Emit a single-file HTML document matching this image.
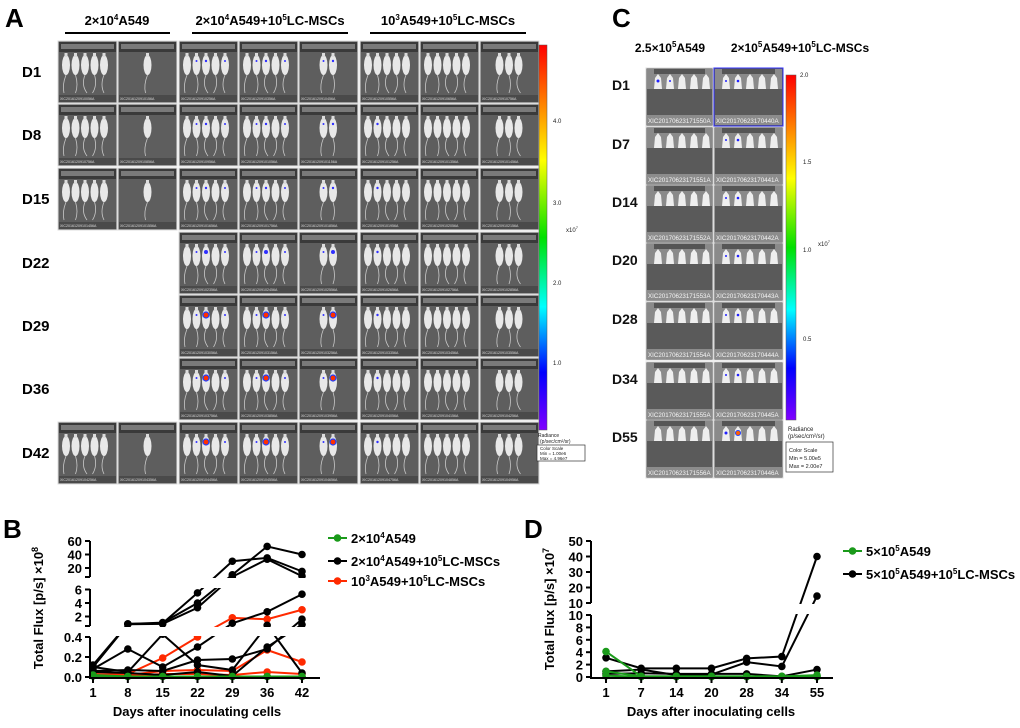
<!DOCTYPE html>
<html><head><meta charset="utf-8">
<style>
html,body{margin:0;padding:0;background:#fff;}
body{width:1020px;height:723px;overflow:hidden;font-family:"Liberation Sans",Arial,sans-serif;}
svg text{font-family:"Liberation Sans",Arial,sans-serif;}
</style></head>
<body>
<svg id="fig" width="1020" height="723" viewBox="0 0 1020 723" xmlns="http://www.w3.org/2000/svg">
<defs>
<linearGradient id="cbar" x1="0" y1="0" x2="0" y2="1">
<stop offset="0" stop-color="#ff0000"/><stop offset="0.15" stop-color="#ff8000"/><stop offset="0.3" stop-color="#ffff00"/>
<stop offset="0.5" stop-color="#00e000"/><stop offset="0.68" stop-color="#00ffff"/><stop offset="0.85" stop-color="#0000ff"/>
<stop offset="1" stop-color="#8000ff"/></linearGradient>
</defs>
<g id="panelA">
<text x="5" y="27" font-size="26" font-weight="bold">A</text>
<text x="117" y="25" font-size="13" font-weight="bold" text-anchor="middle">2×10<tspan dy="-5" font-size="8">4</tspan><tspan dy="5">A549</tspan></text>
<line x1="65" y1="33" x2="170" y2="33" stroke="#000" stroke-width="2"/>
<text x="270" y="25" font-size="13" font-weight="bold" text-anchor="middle">2×10<tspan dy="-5" font-size="8">4</tspan><tspan dy="5">A549+10</tspan><tspan dy="-5" font-size="8">5</tspan><tspan dy="5">LC-MSCs</tspan></text>
<line x1="192" y1="33" x2="348" y2="33" stroke="#000" stroke-width="2"/>
<text x="448" y="25" font-size="13" font-weight="bold" text-anchor="middle">10<tspan dy="-5" font-size="8">3</tspan><tspan dy="5">A549+10</tspan><tspan dy="-5" font-size="8">5</tspan><tspan dy="5">LC-MSCs</tspan></text>
<line x1="370" y1="33" x2="526" y2="33" stroke="#000" stroke-width="2"/>
<g id="tilesA"></g>
<rect x="539" y="45" width="8" height="385" fill="url(#cbar)" stroke="#555" stroke-width="0.5"/>
<g font-size="6" fill="#222" font-family="Liberation Serif">
<text x="553" y="123" font-family="Liberation Serif">4.0</text>
<text x="553" y="205" font-family="Liberation Serif">3.0</text>
<text x="553" y="285" font-family="Liberation Serif">2.0</text>
<text x="553" y="365" font-family="Liberation Serif">1.0</text>
<text x="566" y="232" font-family="Liberation Serif">x10<tspan dy="-3" font-size="4">7</tspan></text>
<text x="538" y="437" font-size="5" font-family="Liberation Mono">Radiance</text>
<text x="540" y="443" font-size="5" font-family="Liberation Mono">(p/sec/cm²/sr)</text>
<rect x="537" y="445" width="48" height="16" fill="#fff" stroke="#333" stroke-width="0.7"/>
<text x="540" y="450" font-size="4.5" font-family="Liberation Mono">Color Scale</text>
<text x="540" y="455" font-size="4.5" font-family="Liberation Mono">Min = 1.00e6</text>
<text x="540" y="460" font-size="4.5" font-family="Liberation Mono">Max = 4.96e7</text>
</g>
</g>
<g id="panelC">
<text x="612" y="27" font-size="26" font-weight="bold">C</text>
<text x="670" y="52" font-size="12" font-weight="bold" text-anchor="middle">2.5×10<tspan dy="-5" font-size="8">5</tspan><tspan dy="5">A549</tspan></text>
<text x="800" y="52" font-size="12" font-weight="bold" text-anchor="middle">2×10<tspan dy="-5" font-size="8">5</tspan><tspan dy="5">A549+10</tspan><tspan dy="-5" font-size="8">5</tspan><tspan dy="5">LC-MSCs</tspan></text>
<g id="tilesC"></g>
<rect x="786" y="75" width="10" height="345" fill="url(#cbar)" stroke="#555" stroke-width="0.5"/>
<g font-size="6" fill="#222">
<text x="800" y="77" font-family="Liberation Serif">2.0</text>
<text x="803" y="164" font-family="Liberation Serif">1.5</text>
<text x="803" y="252" font-family="Liberation Serif">1.0</text>
<text x="818" y="246" font-family="Liberation Serif">x10<tspan dy="-3" font-size="4">7</tspan></text>
<text x="803" y="341" font-family="Liberation Serif">0.5</text>
<text x="788" y="431">Radiance</text>
<text x="788" y="438">(p/sec/cm²/sr)</text>
<rect x="786" y="442" width="47" height="30" fill="#fff" stroke="#333" stroke-width="0.7"/>
<text x="789" y="452" font-size="5.5">Color Scale</text>
<text x="789" y="460" font-size="5.5">Min = 5.00e5</text>
<text x="789" y="468" font-size="5.5">Max = 2.00e7</text>
</g>
</g>
<g id="chartB"></g>
<g id="chartD"></g>
</svg>
<script>
// ---------- Chart B data ----------
const bDays = ['1','8','15','22','29','36','42'];
const bYTicksTop = [20,40,60];
const bYTicksMid = [2,4,6];
const bYTicksLow = [0.0,0.2,0.4];
const bGreen1 = [0.02,0.005,0.005,0.005,0.005,0.005,0.005];
const bGreen2 = [0.01,0.005,0.005,0.005,0.005,0.005,0.005];
const bBlack1 = [0.12,0.9,1.0,5.5,30,35,15];
const bBlack2 = [0.1,0.9,1.1,4.0,10,52,40];
const bBlack3 = [0.1,0.85,0.9,3.3,7,33,8];
const bBlack4 = [0.08,0.28,0.1,0.3,1.0,2.7,5.3];
const bBlack5 = [0.06,0.07,0.06,0.17,0.18,0.28,1.6];
const bBlack6 = [0.1,0.05,0.45,0.12,0.07,0.7,0.04];
const bBlack7 = [0.05,0.04,0.02,0.05,0.01,0.3,0.8];
const bRed1 = [0.02,0.03,0.19,0.4,1.8,1.6,3.0];
const bRed2 = [0.03,0.02,0.06,0.07,0.06,0.27,0.15];
const bRed3 = [0.02,0.01,0.03,0.03,0.02,0.05,0.03];
// ---------- Chart D data ----------
const dDays = ['1','7','14','20','28','34','55'];
const dYTicksTop = [10,20,30,40,50];
const dYTicksLow = [0,2,4,6,8,10];
const dBlack1 = [3.1,1.4,1.4,1.4,3.0,3.3,40];
const dBlack2 = [0.9,1.2,0.3,0.4,2.4,1.7,14.5];
const dBlack3 = [0.5,0.6,0.5,0.5,0.5,0.1,1.2];
const dGreen1 = [4.1,0.1,0.1,0.1,0.1,0.1,0.3];
const dGreen2 = [0.9,0.1,0.1,0.1,0.1,0.1,0.1];
const dGreen3 = [0.2,0.05,0.05,0.05,0.05,0.05,0.05];

const NS='http://www.w3.org/2000/svg';
function mk(tag,attrs,parent){const e=document.createElementNS(NS,tag);for(const k in attrs)e.setAttribute(k,attrs[k]);if(parent)parent.appendChild(e);return e;}

// ---------- Tiles ----------
function tile(parent,x,y,w,h,n,label,spots,kind){
  const g=mk('g',{},parent);
  
  
  if(kind==='A'){
    mk('rect',{x:x,y:y,width:w,height:h,fill:'#5e5e5e',stroke:'#ddd','stroke-width':1},g);
    mk('rect',{x:x+1,y:y+1,width:w-2,height:10,fill:'#3a3a3a'},g);
    mk('rect',{x:x+3,y:y+3,width:w-6,height:5,fill:'#7a7a7a'},g);
    const x0=x+(n>=5?8:(n===1?w/2:w/2-(n-1)*5)), step=9.5;
    for(let i=0;i<n;i++){
      const cx=x0+i*step;
      mk('path',{d:`M${cx} ${y+34} Q ${cx+(i%2?3:-4)} ${y+44} ${cx+(i%3-1)*2} ${y+52}`,stroke:'#c8c8c8','stroke-width':0.8,fill:'none'},g);
      mk('ellipse',{cx:cx,cy:y+24,rx:4,ry:10,fill:'#e8e8e8'},g);
      mk('rect',{x:cx-1.5,y:y+12,width:3,height:4,fill:'#dcdcdc'},g);
    }
    (spots||[]).forEach(s=>{mk('circle',{cx:x0+s[0]*step,cy:y+20,r:s[1],fill:s[1]>2?'#ff3000':'#3030ff',stroke:s[1]>2?'#2040ff':'none','stroke-width':1.2},g);});
    mk('rect',{x:x+1,y:y+h-8,width:w-2,height:7,fill:'#4a4a4a'},g);
    mk('text',{x:x+2,y:y+h-3,'font-size':3.6,fill:'#ddd','font-family':'Liberation Mono'},g).textContent=label;
  } else {
    mk('rect',{x:x,y:y,width:w,height:h,fill:'#5a5a5a',stroke:'#ddd','stroke-width':1},g);
    mk('rect',{x:x+1,y:y+1,width:w-2,height:20,fill:'#8a8a8a'},g);
    mk('rect',{x:x+8,y:y+1,width:w-16,height:5,fill:'#555'},g);
    for(let i=0;i<n;i++){
      const cx=x+12+i*12;
      mk('path',{d:`M${cx-4} ${y+21} L${cx-3} ${y+10} L${cx} ${y+6} L${cx+3} ${y+10} L${cx+4} ${y+21} Z`,fill:'#eeeeee'},g);
    }
    (spots||[]).forEach(s=>{mk('circle',{cx:x+12+s[0]*12,cy:y+13,r:s[1],fill:s[1]>2?'#ff6000':'#2020ff',stroke:s[1]>2?'#2040ff':'none','stroke-width':1},g);});
    mk('rect',{x:x+1,y:y+h-11,width:w-2,height:10,fill:'#8c8c8c'},g);
    mk('text',{x:x+2,y:y+h-3,'font-size':6.2,fill:'#f4f4f4'},g).textContent=label;
  }
}
const tilesA=document.getElementById('tilesA');
const colX=[58,118,179,239,299,360,420,480];
const rowY=[41,104,168,232,295,358,422];
const rowLbl=['D1','D8','D15','D22','D29','D36','D42'];
const mice=[5,1,5,5,2,5,5,3];
rowLbl.forEach((lb,r)=>{
  const t=mk('text',{x:22,y:rowY[r]+36,'font-size':15,'font-weight':'bold'},tilesA);
  
  
  t.textContent=lb;
  colX.forEach((cx,c)=>{
    if((r>=3&&r<=5)&&c<2)return;
    let spots=[];
    if(c>=2&&c<=4){const big=r>=3?(r>=4?3:2):1.2;spots=c===4?[[0,1],[1,big]]:[[1,1],[2,big],[4,1]];}
    if(c===5&&r>=1)spots=[[1,1.2]];
    tile(tilesA,cx,rowY[r],59,62,mice[c],'XIC2016120910'+(r*7+c)+'56A',spots,'A');
  });
});
const tilesC=document.getElementById('tilesC');
const cRowY=[68,127,185,243,302,362,420];
const cLbl=['D1','D7','D14','D20','D28','D34','D55'];
cLbl.forEach((lb,r)=>{
  tile(tilesC,646,cRowY[r],67,58,5,'XIC2017062317155'+r+'A',r===0?[[0,1.5],[1,1]]:[],'C');
  tile(tilesC,714,cRowY[r],69,58,5,'XIC2017062317044'+r+'A',r===6?[[0,1.5],[1,2.5]]:[[0,1],[1,1.3]],'C');
  const t=mk('text',{x:612,y:cRowY[r]+22,'font-size':14,'font-weight':'bold',fill:'#111'},tilesC);
  
  
  t.textContent=lb;
});
mk('rect',{x:714,y:68,width:69,height:58,fill:'none',stroke:'#3030ff','stroke-width':1},tilesC);

// ---------- Chart B ----------
(function(){
  const g=document.getElementById('chartB');
  const x0=93,dx=(302-93)/6;
  const X=i=>x0+i*dx;
  const Y=v=>{
    if(v<=0.4)return 677-v/0.4*40;
    if(v<0.6)return 637-(v-0.4)/0.2*11;
    if(v<=6)return 630-v*6.75;
    if(v<6.7)return 589.5-(v-6)/0.7*12.5;
    return 581.5-v*0.675;
  };
  const t=mk('text',{x:3,y:538,'font-size':26,'font-weight':'bold'},g);
  t.textContent='B';
  const series=[[bRed1,'#ff2a00'],[bRed2,'#ff2a00'],[bRed3,'#ff2a00'],[bBlack1,'#000'],[bBlack2,'#000'],[bBlack3,'#000'],[bBlack4,'#000'],[bBlack5,'#000'],[bBlack6,'#000'],[bBlack7,'#000'],[bGreen1,'#1a9a1a'],[bGreen2,'#1a9a1a']];
  series.forEach(([arr,col])=>{
    const pts=arr.map((v,i)=>X(i)+','+Y(v)).join(' ');
    const pl=mk('polyline',{points:pts,fill:'none',stroke:col,'stroke-width':2},g);
    
    arr.forEach((v,i)=>{
      const c=mk('circle',{cx:X(i),cy:Y(v),r:3.8,fill:col},g);
      
    });
  });
  mk('rect',{x:86,y:627,width:240,height:9,fill:'#fff'},g);
  mk('rect',{x:86,y:578,width:240,height:10,fill:'#fff'},g);
  const ax=mk('path',{d:'M90 541 V577 M90 589 V626 M90 637 V678 H320',stroke:'#000','stroke-width':2,fill:'none'},g);
  
  mk('path',{d:'M85 577 H90 M85 626 H90',stroke:'#000','stroke-width':2},g);
  [[bYTicksTop,v=>581.5-v*0.675],[bYTicksMid,v=>630-v*6.75],[bYTicksLow,v=>677-v/0.4*40]].forEach(([ticks,f])=>{
    ticks.forEach(v=>{
      const y=f(v);
      mk('line',{x1:85,y1:y,x2:90,y2:y,stroke:'#000','stroke-width':2},g);
      const tt=mk('text',{x:82,y:y+5,'font-size':13,'font-weight':'bold','text-anchor':'end'},g);
      
      tt.textContent=ticks===bYTicksLow?v.toFixed(1):String(v);
    });
  });
  bDays.forEach((d,i)=>{
    mk('line',{x1:X(i),y1:678,x2:X(i),y2:683,stroke:'#000','stroke-width':2},g);
    const tt=mk('text',{x:X(i),y:697,'font-size':13,'font-weight':'bold','text-anchor':'middle'},g);
    tt.textContent=d;
  });
  const xt=mk('text',{x:197,y:716,'font-size':13,'font-weight':'bold','text-anchor':'middle'},g);
  xt.textContent='Days after inoculating cells';
  const yt=mk('text',{x:0,y:0,'font-size':13,'font-weight':'bold','text-anchor':'middle',transform:'translate(43,608) rotate(-90)'},g);
  
  yt.innerHTML='Total Flux [p/s] ×10<tspan dy="-5" font-size="9">8</tspan>';
  const leg=[['#1a9a1a','2×10<tspan dy="-5" font-size="8">4</tspan><tspan dy="5">A549</tspan>',538],['#000','2×10<tspan dy="-5" font-size="8">4</tspan><tspan dy="5">A549+10</tspan><tspan dy="-5" font-size="8">5</tspan><tspan dy="5">LC-MSCs</tspan>',561],['#ff2a00','10<tspan dy="-5" font-size="8">3</tspan><tspan dy="5">A549+10</tspan><tspan dy="-5" font-size="8">5</tspan><tspan dy="5">LC-MSCs</tspan>',581]];
  leg.forEach(([c,txt,y])=>{
    const lg=mk('g',{},g);
    mk('line',{x1:328,y1:y,x2:347,y2:y,stroke:c,'stroke-width':2},lg);
    mk('circle',{cx:337.5,cy:y,r:3.8,fill:c},lg);
    const tx=mk('text',{x:351,y:y+5,'font-size':13,'font-weight':'bold'},lg);tx.innerHTML=txt;
  });
})();

// ---------- Chart D ----------
(function(){
  const g=document.getElementById('chartD');
  const x0=606,dx=(817-606)/6;
  const X=i=>x0+i*dx;
  const Y=v=>v<=10?677-v*6.2:603-(v-10)*1.55;
  const t=mk('text',{x:524,y:538,'font-size':26,'font-weight':'bold'},g);
  t.textContent='D';
  const series=[[dBlack1,'#000'],[dBlack2,'#000'],[dBlack3,'#000'],[dGreen1,'#1a9a1a'],[dGreen2,'#1a9a1a'],[dGreen3,'#1a9a1a']];
  series.forEach(([arr,col])=>{
    const pl=mk('polyline',{points:arr.map((v,i)=>X(i)+','+Y(v)).join(' '),fill:'none',stroke:col,'stroke-width':2},g);
    
    arr.forEach((v,i)=>{
      const c=mk('circle',{cx:X(i),cy:Y(v),r:3.8,fill:col},g);
      
    });
  });
  mk('rect',{x:586,y:604,width:250,height:10,fill:'#fff'},g);
  const ax=mk('path',{d:'M591 541 V603 M591 615 V678 H833',stroke:'#000','stroke-width':2,fill:'none'},g);
  
  [[dYTicksTop,v=>603-(v-10)*1.55],[dYTicksLow,v=>677-v*6.2]].forEach(([ticks,f])=>{
    ticks.forEach(v=>{
      const y=f(v);
      mk('line',{x1:586,y1:y,x2:591,y2:y,stroke:'#000','stroke-width':2},g);
      const tt=mk('text',{x:583,y:y+5,'font-size':13,'font-weight':'bold','text-anchor':'end'},g);
      tt.textContent=String(v);
    });
  });
  dDays.forEach((d,i)=>{
    mk('line',{x1:X(i),y1:678,x2:X(i),y2:683,stroke:'#000','stroke-width':2},g);
    const tt=mk('text',{x:X(i),y:697,'font-size':13,'font-weight':'bold','text-anchor':'middle'},g);
    tt.textContent=d;
  });
  const xt=mk('text',{x:711,y:716,'font-size':13,'font-weight':'bold','text-anchor':'middle'},g);
  xt.textContent='Days after inoculating cells';
  const yt=mk('text',{x:0,y:0,'font-size':13,'font-weight':'bold','text-anchor':'middle',transform:'translate(554,609) rotate(-90)'},g);
  
  yt.innerHTML='Total Flux [p/s] ×10<tspan dy="-5" font-size="9">7</tspan>';
  const leg=[['#1a9a1a','5×10<tspan dy="-5" font-size="8">5</tspan><tspan dy="5">A549</tspan>',551],['#000','5×10<tspan dy="-5" font-size="8">5</tspan><tspan dy="5">A549+10</tspan><tspan dy="-5" font-size="8">5</tspan><tspan dy="5">LC-MSCs</tspan>',574]];
  leg.forEach(([c,txt,y])=>{
    const lg=mk('g',{},g);
    mk('line',{x1:843,y1:y,x2:862,y2:y,stroke:c,'stroke-width':2},lg);
    mk('circle',{cx:852.5,cy:y,r:3.8,fill:c},lg);
    const tx=mk('text',{x:866,y:y+5,'font-size':13,'font-weight':'bold'},lg);tx.innerHTML=txt;
  });
})();
</script>
</body></html>
